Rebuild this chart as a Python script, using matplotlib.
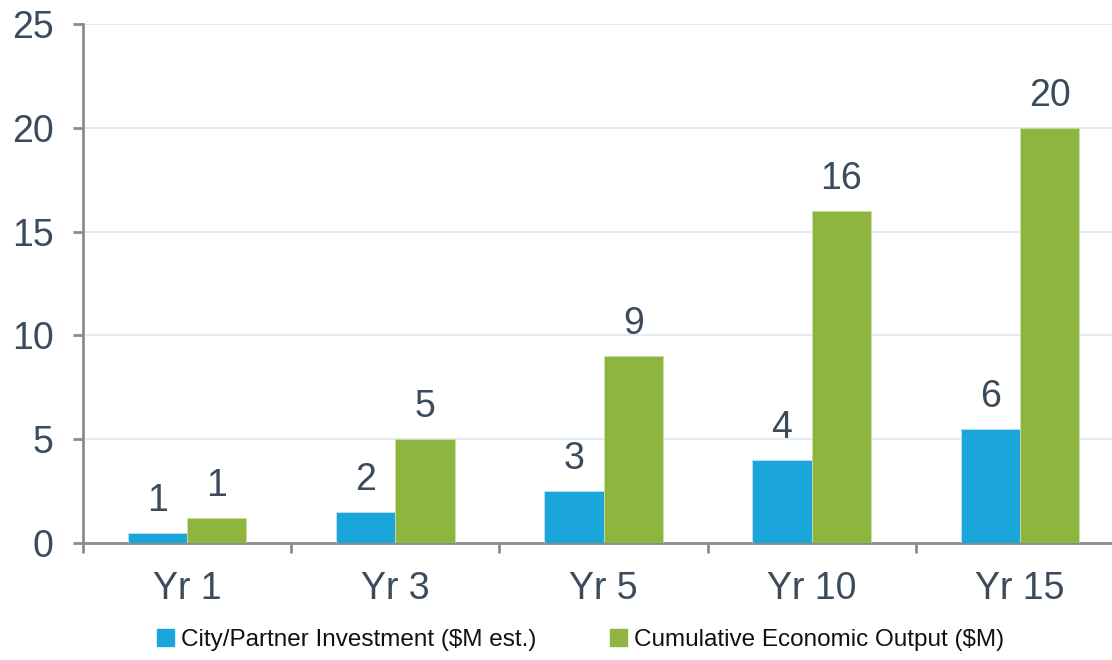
import matplotlib.pyplot as plt
import numpy as np
from matplotlib import font_manager

years = ["Yr 1", "Yr 3", "Yr 5", "Yr 10", "Yr 15"]
investment = [0.5, 1.5, 2.5, 4, 5.5]
output = [1.2, 5, 9, 16, 20]
investment_labels = ["1", "2", "3", "4", "6"]
output_labels = ["1", "5", "9", "16", "20"]

blue = "#1ba6db"
green = "#8db53f"
text_col = "#3b4b5d"
axis_col = "#8c8c8c"

names = {f.name for f in font_manager.fontManager.ttflist}
legend_font = "Liberation Sans Narrow" if "Liberation Sans Narrow" in names else "Liberation Sans"

plt.rcParams["font.family"] = ["Liberation Sans", "DejaVu Sans"]

fig = plt.figure(figsize=(11.12, 6.6), dpi=100)
ax = fig.add_axes([83 / 1112, 1 - 543 / 660, 1041 / 1112, 519 / 660])

x = np.arange(len(years))
w = 0.285
b1 = ax.bar(x - w / 2, investment, w, color=blue, edgecolor="#bfe3f3", linewidth=0.6, zorder=3)
b2 = ax.bar(x + w / 2, output, w, color=green, edgecolor="#c9dea0", linewidth=0.6, zorder=3)

# data labels (rounded values above each bar)
for bars, labels in [(b1, investment_labels), (b2, output_labels)]:
    for r, lab in zip(bars, labels):
        ax.annotate(lab, (r.get_x() + r.get_width() / 2, r.get_height()),
                    xytext=(0, 10), textcoords="offset points",
                    ha="center", va="bottom", fontsize=27, color=text_col)

ax.set_xlim(-0.5, len(years) - 0.5)
ax.set_ylim(0, 25)
ax.set_yticks([0, 5, 10, 15, 20, 25])
ax.grid(axis="y", color="#dde9f4", linewidth=1.2, zorder=0)

for s in ["top", "right"]:
    ax.spines[s].set_visible(False)
for s in ["left", "bottom"]:
    ax.spines[s].set_color(axis_col)
    ax.spines[s].set_linewidth(2)

ax.tick_params(axis="y", length=7, width=2, color=axis_col, pad=14,
               labelsize=27, labelcolor=text_col)
ax.set_xticks(x)
ax.set_xticklabels(years)
ax.tick_params(axis="x", length=0, pad=20, labelsize=27, labelcolor=text_col)
ax.set_xticks(np.arange(len(years) + 1) - 0.5, minor=True)
ax.tick_params(axis="x", which="minor", length=7, width=2, color=axis_col)

handles = [plt.Rectangle((0, 0), 1, 1, color=blue), plt.Rectangle((0, 0), 1, 1, color=green)]
fig.legend(handles, ["City/Partner Investment ($M est.)", "Cumulative Economic Output ($M)"],
           loc="center", bbox_to_anchor=(0.522, 0.031), ncol=2, frameon=False,
           prop={"family": legend_font, "size": 17.5}, handlelength=0.7, handleheight=0.7,
           handletextpad=0.3, columnspacing=3.0, labelcolor="#111111")

fig.savefig("out.png", dpi=100)
